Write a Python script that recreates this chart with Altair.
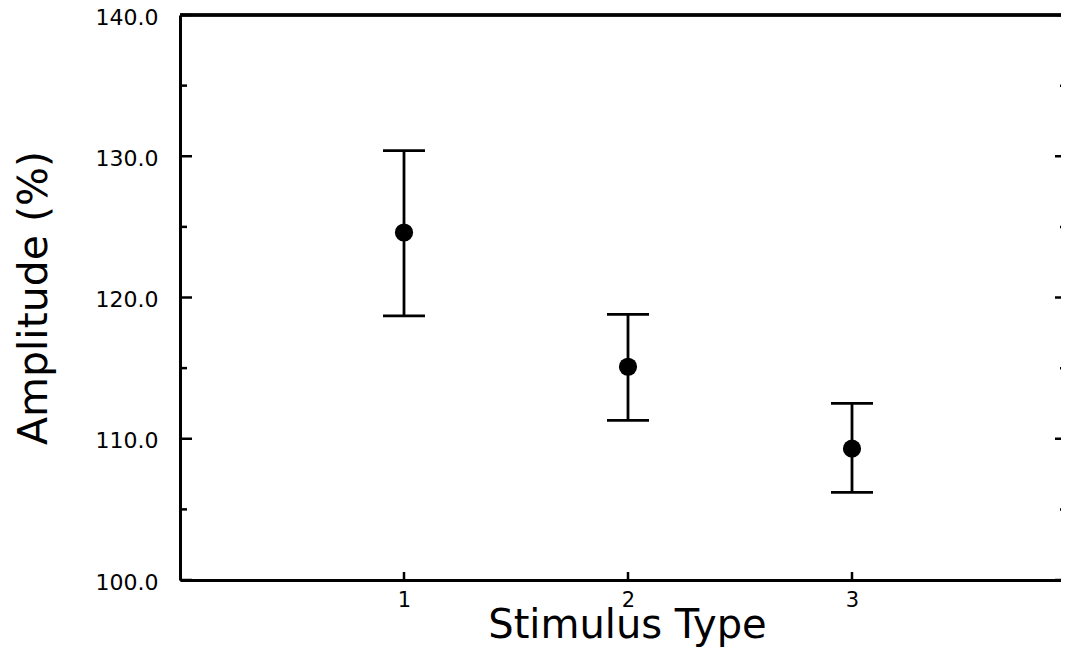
import altair as alt
import pandas as pd

# ---- data ----
stimulus = [1, 2, 3]
amplitude = [124.6, 115.1, 109.3]
upper = [130.4, 118.8, 112.5]
lower = [118.7, 111.3, 106.2]

y_major = [100, 110, 120, 130, 140]
y_minor = [105, 115, 125, 135]
x_ticks = [1, 2, 3]

# ---- layout ----
W, H = 881, 565
X_MAX = W / 224  # keeps 1, 2, 3 where the reference has them; its right frame is off-picture
FONT = "DejaVu Sans"

df = pd.DataFrame({"s": stimulus, "m": amplitude, "hi": upper, "lo": lower})
maj = pd.DataFrame({"v": y_major})
mnr = pd.DataFrame({"v": y_minor})
xt = pd.DataFrame({"s": x_ticks})

xs = alt.Scale(domain=[0, X_MAX], nice=False, zero=False)
ys = alt.Scale(domain=[100, 140], nice=False, zero=False)

x_axis = alt.Axis(
    values=x_ticks, format="d", title="Stimulus Type", grid=False, ticks=False, tickSize=0,
    domainColor="black", domainWidth=3, labelColor="black", labelFont=FONT, labelFontSize=21,
    labelPadding=9, titleFont=FONT, titleFontSize=40, titleFontWeight="normal", titleColor="black",
    titleX=447, titleY=57, titleBaseline="alphabetic", titleAlign="center",
)
y_axis = alt.Axis(
    values=y_major, format=".1f", title="Amplitude (%)", grid=False, ticks=False, tickSize=0,
    domainColor="black", domainWidth=3, labelColor="black", labelFont=FONT, labelFontSize=22,
    labelPadding=22, labelOffset=2, titleFont=FONT, titleFontSize=41, titleFontWeight="normal",
    titleColor="black", titleAngle=-90, titleX=-134, titleY=H / 2, titleBaseline="alphabetic",
    titleAlign="center",
)

X = alt.X("s:Q", scale=xs, axis=x_axis)

err = alt.Chart(df).mark_rule(color="black", strokeWidth=2.8).encode(
    x=X, y=alt.Y("lo:Q", scale=ys, axis=y_axis), y2="hi:Q"
)
cap_hi = alt.Chart(df).mark_tick(color="black", orient="horizontal", size=42, thickness=2.8, opacity=1).encode(
    x=X, y=alt.Y("hi:Q", scale=ys, axis=y_axis)
)
cap_lo = alt.Chart(df).mark_tick(color="black", orient="horizontal", size=42, thickness=2.8, opacity=1).encode(
    x=X, y=alt.Y("lo:Q", scale=ys, axis=y_axis)
)
pts = alt.Chart(df).mark_circle(color="black", size=330, opacity=1).encode(
    x=X, y=alt.Y("m:Q", scale=ys, axis=y_axis)
)

Yv = alt.Y("v:Q", scale=ys, axis=y_axis)
left_major = alt.Chart(maj).mark_rule(color="black", strokeWidth=2.5).encode(
    y=Yv, x=alt.value(0), x2=alt.value(12)
)
left_minor = alt.Chart(mnr).mark_rule(color="black", strokeWidth=2.5).encode(
    y=Yv, x=alt.value(0), x2=alt.value(7)
)
right_major = alt.Chart(maj).mark_rule(color="black", strokeWidth=2.5, clip=True).encode(
    y=Yv, x=alt.value(W - 6), x2=alt.value(W)
)
right_minor = alt.Chart(mnr).mark_rule(color="black", strokeWidth=2.5, clip=True).encode(
    y=Yv, x=alt.value(W - 1), x2=alt.value(W)
)
bottom_ticks = alt.Chart(xt).mark_rule(color="black", strokeWidth=2.5).encode(
    x=X, y=alt.value(H - 8), y2=alt.value(H)
)
top_border = alt.Chart(xt).mark_rule(color="black", strokeWidth=3).encode(
    x=alt.value(0), x2=alt.value(W), y=alt.value(0)
)

chart = (
    alt.layer(top_border, left_major, left_minor, right_major, right_minor, bottom_ticks,
              err, cap_hi, cap_lo, pts)
    .properties(
        width=W, height=H,
        autosize=alt.AutoSizeParams(type="none"),
        padding={"left": 172, "top": 7, "right": 0, "bottom": 68},
        background="white",
    )
    .configure_view(stroke=None)
)

chart.save("out.html", embed_options={"renderer": "svg", "actions": False})
